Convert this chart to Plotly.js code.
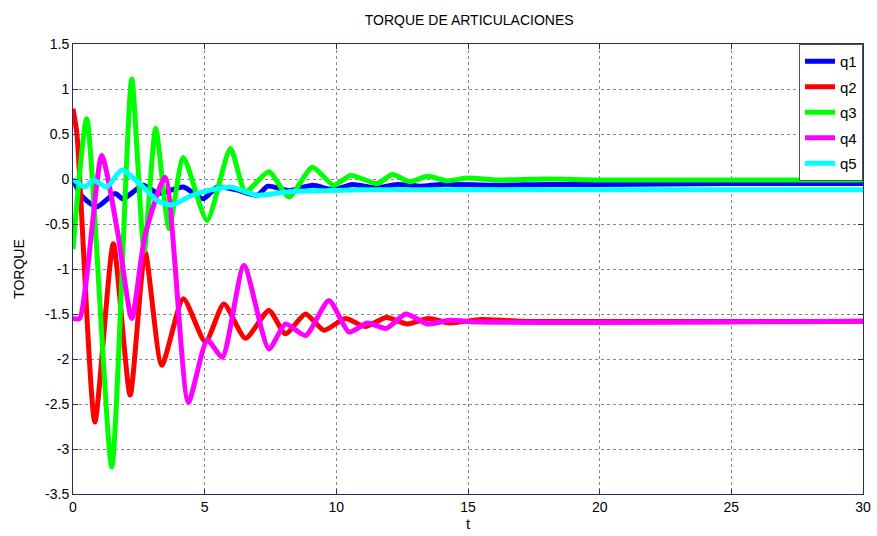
<!DOCTYPE html>
<html>
<head>
<meta charset="utf-8">
<script src="https://cdn.plot.ly/plotly-3.0.1.min.js"></script>
<style>html,body{margin:0;padding:0;background:#fff;}#chart{width:877px;height:536px;}</style>
</head>
<body>
<div id="chart"></div>
<script>
// Joint torques
const seriesNames = ["q1", "q2", "q3", "q4", "q5"];
const seriesColors = ["#0000ff", "#ff0000", "#00ff00", "#ff00ff", "#00ffff"];

const q1_t = [0, 0.3, 0.9, 1.6, 1.9, 2.67, 3.24, 4.19, 4.95, 5.47, 6.2, 7.0, 7.4, 8.2, 9.1, 9.9, 10.6, 11.5, 12.3, 13.2, 14, 16, 18, 20, 25, 30];
const q1_y = [0, -0.18, -0.31, -0.16, -0.22, -0.07, -0.16, -0.09, -0.22, -0.09, -0.12, -0.18, -0.08, -0.13, -0.07, -0.12, -0.06, -0.1, -0.06, -0.08, -0.06, -0.07, -0.06, -0.06, -0.05, -0.05];

const q2_t = [0, 0.15, 0.83, 1.53, 2.17, 2.74, 3.37, 4.19, 5.03, 5.73, 6.55, 7.44, 8.07, 8.83, 9.53, 10.35, 11.1, 11.9, 12.7, 13.5, 14.3, 15.5, 17, 30];
const q2_y = [0.78, 0.5, -2.7, -0.72, -2.4, -0.81, -2.07, -1.33, -1.81, -1.39, -1.77, -1.46, -1.72, -1.5, -1.68, -1.55, -1.64, -1.54, -1.61, -1.55, -1.6, -1.56, -1.58, -1.58];

const q3_t = [0, 0.52, 1.47, 2.23, 2.7, 3.14, 3.65, 4.19, 5.09, 5.98, 6.55, 7.44, 8.2, 9.09, 9.9, 10.54, 11.56, 12.13, 12.8, 13.46, 14.2, 15.0, 16, 18, 20, 30];
const q3_y = [-0.78, 0.67, -3.2, 1.11, -0.8, 0.56, -0.55, 0.24, -0.46, 0.34, -0.14, 0.08, -0.2, 0.13, -0.07, 0.04, -0.05, 0.05, -0.03, 0.03, -0.02, 0.01, -0.01, 0.0, -0.01, -0.01];

const q4_t = [0, 0.25, 1.09, 1.7, 2.23, 2.74, 3.5, 4.38, 5.1, 5.67, 6.49, 7.44, 8.07, 8.83, 9.72, 10.48, 11.18, 11.9, 12.64, 13.46, 14.3, 15.5, 30];
const q4_y = [-1.55, -1.55, 0.26, -0.6, -1.55, -0.62, 0.02, -2.48, -1.79, -1.98, -0.96, -1.89, -1.61, -1.74, -1.35, -1.7, -1.6, -1.66, -1.5, -1.61, -1.57, -1.59, -1.58];

const q5_t = [0, 0.45, 0.77, 1.28, 1.85, 2.6, 3.2, 3.75, 4.38, 4.96, 5.98, 6.98, 8.26, 9.5, 11, 13, 30];
const q5_y = [0, -0.09, -0.01, -0.09, 0.1, -0.07, -0.24, -0.29, -0.2, -0.14, -0.09, -0.18, -0.14, -0.13, -0.12, -0.12, -0.12];

const xTicks = [0, 5, 10, 15, 20, 25, 30];
const yTicks = [-3.5, -3, -2.5, -2, -1.5, -1, -0.5, 0, 0.5, 1, 1.5];

const allT = [q1_t, q2_t, q3_t, q4_t, q5_t];
const allY = [q1_y, q2_y, q3_y, q4_y, q5_y];

const traces = seriesNames.map((n, i) => ({
  x: allT[i], y: allY[i], name: n, legendgroup: n, type: "scatter", mode: "lines",
  line: {color: seriesColors[i], width: 5, shape: "spline", smoothing: 0.6}
}));

const FONT = "Arial, Liberation Sans, sans-serif";
const axisCommon = {
  showline: true, mirror: "ticks", linecolor: "#2b2b55", linewidth: 1,
  ticks: "inside", ticklen: 5, tickcolor: "#2b2b55",
  showgrid: true, gridcolor: "#888", griddash: "dot", gridwidth: 1,
  zeroline: false, tickfont: {family: FONT, size: 14, color: "#000"}
};

const layout = {
  width: 877, height: 536,
  margin: {l: 73, r: 14, t: 44, b: 42},
  paper_bgcolor: "#fff", plot_bgcolor: "#fff",
  title: {text: "TORQUE DE ARTICULACIONES", x: 0.535, xanchor: "center", y: 0.962, yanchor: "middle",
          font: {family: FONT, size: 14, color: "#000"}},
  xaxis: Object.assign({}, axisCommon, {range: [0, 30], tickvals: xTicks, ticktext: xTicks.map(String),
          title: {text: "t", standoff: 2, font: {family: FONT, size: 15, color: "#000"}}}),
  yaxis: Object.assign({}, axisCommon, {range: [-3.5, 1.5], tickvals: yTicks, ticktext: yTicks.map(String),
          title: {text: "TORQUE", standoff: 17, font: {family: FONT, size: 14, color: "#000"}}}),
  legend: {x: 1, xanchor: "right", y: 1, yanchor: "top", bgcolor: "#fff", bordercolor: "#555", borderwidth: 1,
           font: {family: FONT, size: 15, color: "#000"}, itemwidth: 30, tracegroupgap: 3, traceorder: "grouped"},
  showlegend: true
};

Plotly.newPlot("chart", traces, layout, {displayModeBar: false, staticPlot: true});
</script>
</body>
</html>
